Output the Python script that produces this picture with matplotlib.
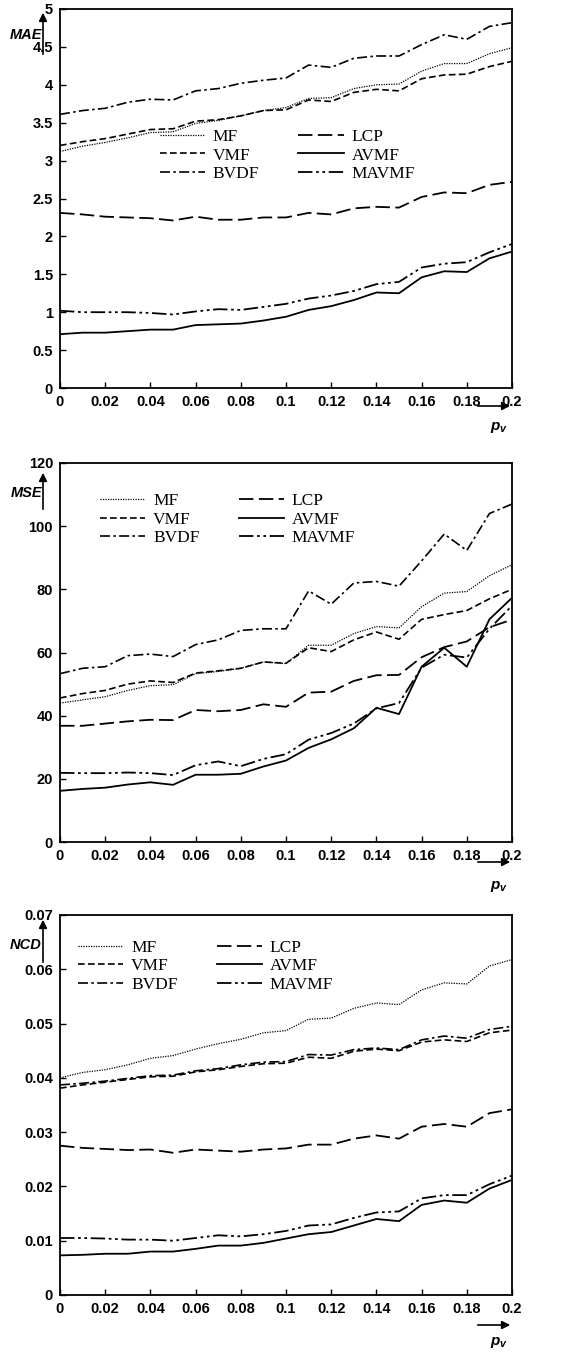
import matplotlib
matplotlib.use("Agg")
import matplotlib.pyplot as plt
from matplotlib.ticker import FuncFormatter, MultipleLocator

plt.rcParams["font.family"] = ["Liberation Sans", "DejaVu Sans"]
plt.rcParams["mathtext.fontset"] = "custom"
plt.rcParams["mathtext.it"] = "Liberation Sans:italic:bold"
plt.rcParams["mathtext.rm"] = "Liberation Sans:bold"

p_v = [0.00, 0.01, 0.02, 0.03, 0.04, 0.05, 0.06, 0.07, 0.08, 0.09, 0.10,
       0.11, 0.12, 0.13, 0.14, 0.15, 0.16, 0.17, 0.18, 0.19, 0.20]
filters = ["MF", "VMF", "BVDF", "LCP", "AVMF", "MAVMF"]

mae_mf = [3.12, 3.19, 3.24, 3.30, 3.37, 3.38, 3.49, 3.53, 3.59, 3.66, 3.70,
          3.82, 3.83, 3.95, 4.00, 4.01, 4.18, 4.28, 4.28, 4.41, 4.49]
mae_vmf = [3.20, 3.25, 3.29, 3.35, 3.41, 3.42, 3.52, 3.54, 3.59, 3.66, 3.67,
           3.80, 3.78, 3.90, 3.94, 3.92, 4.08, 4.13, 4.14, 4.24, 4.31]
mae_bvdf = [3.61, 3.66, 3.69, 3.77, 3.81, 3.80, 3.92, 3.95, 4.02, 4.06, 4.09,
            4.26, 4.23, 4.35, 4.38, 4.38, 4.53, 4.66, 4.60, 4.77, 4.82]
mae_lcp = [2.31, 2.29, 2.26, 2.25, 2.24, 2.21, 2.26, 2.22, 2.22, 2.25, 2.25,
           2.31, 2.29, 2.37, 2.39, 2.38, 2.52, 2.58, 2.57, 2.68, 2.72]
mae_avmf = [0.71, 0.73, 0.73, 0.75, 0.77, 0.77, 0.83, 0.84, 0.85, 0.89, 0.94,
            1.03, 1.08, 1.16, 1.26, 1.25, 1.46, 1.54, 1.53, 1.71, 1.80]
mae_mavmf = [1.02, 1.00, 1.00, 1.00, 0.99, 0.97, 1.01, 1.04, 1.03, 1.07, 1.11,
             1.18, 1.22, 1.28, 1.37, 1.40, 1.59, 1.64, 1.66, 1.79, 1.90]

mse_mf = [44.0, 45.0, 46.0, 48.0, 49.5, 49.8, 53.3, 54.0, 55.0, 57.0, 56.5,
          62.3, 62.3, 66.0, 68.2, 67.8, 74.5, 78.8, 79.3, 84.3, 87.8]
mse_vmf = [45.6, 47.0, 48.0, 50.0, 51.0, 50.5, 53.5, 54.2, 55.0, 57.0, 56.6,
           61.5, 60.3, 64.0, 66.5, 64.2, 70.5, 72.0, 73.3, 77.0, 80.0]
mse_bvdf = [53.3, 55.0, 55.5, 59.0, 59.5, 58.7, 62.5, 64.0, 67.0, 67.5, 67.5,
            79.5, 75.3, 82.0, 82.5, 81.0, 89.0, 97.5, 92.3, 104.0, 107.0]
mse_lcp = [36.8, 36.8, 37.5, 38.2, 38.7, 38.6, 41.8, 41.4, 41.8, 43.6, 42.8,
           47.3, 47.6, 51.0, 52.8, 52.9, 58.5, 61.7, 63.5, 68.0, 70.4]
mse_avmf = [16.2, 16.8, 17.2, 18.2, 18.9, 18.1, 21.3, 21.3, 21.6, 23.9, 25.8,
            29.8, 32.5, 36.0, 42.5, 40.5, 55.5, 61.5, 55.5, 70.5, 77.3]
mse_mavmf = [21.9, 21.8, 21.8, 22.0, 21.8, 21.2, 24.3, 25.5, 24.0, 26.3, 27.8,
             32.4, 34.5, 37.5, 42.3, 44.0, 55.2, 59.3, 58.4, 67.5, 74.8]

ncd_mf = [0.0400, 0.0410, 0.0415, 0.0424, 0.0436, 0.0441, 0.0453, 0.0463, 0.0471, 0.0483, 0.0487,
          0.0508, 0.0510, 0.0528, 0.0538, 0.0535, 0.0562, 0.0575, 0.0573, 0.0606, 0.0618]
ncd_vmf = [0.0381, 0.0387, 0.0392, 0.0397, 0.0402, 0.0403, 0.0411, 0.0415, 0.0421, 0.0426, 0.0427,
           0.0438, 0.0436, 0.0449, 0.0453, 0.0450, 0.0466, 0.0470, 0.0467, 0.0483, 0.0488]
ncd_bvdf = [0.0387, 0.0390, 0.0394, 0.0399, 0.0404, 0.0405, 0.0413, 0.0417, 0.0424, 0.0429, 0.0430,
            0.0443, 0.0442, 0.0452, 0.0455, 0.0452, 0.0470, 0.0477, 0.0473, 0.0489, 0.0495]
ncd_lcp = [0.0275, 0.0271, 0.0269, 0.0267, 0.0268, 0.0262, 0.0268, 0.0266, 0.0264, 0.0268, 0.0270,
           0.0277, 0.0277, 0.0288, 0.0294, 0.0288, 0.0310, 0.0315, 0.0310, 0.0335, 0.0342]
ncd_avmf = [0.0073, 0.0074, 0.0076, 0.0076, 0.0080, 0.0080, 0.0085, 0.0091, 0.0091, 0.0096, 0.0104,
            0.0112, 0.0116, 0.0128, 0.0140, 0.0136, 0.0166, 0.0174, 0.0170, 0.0196, 0.0212]
ncd_mavmf = [0.0105, 0.0105, 0.0104, 0.0102, 0.0102, 0.0100, 0.0105, 0.0110, 0.0108, 0.0112, 0.0118,
             0.0128, 0.0130, 0.0142, 0.0152, 0.0154, 0.0178, 0.0184, 0.0184, 0.0204, 0.0220]

LINESTYLES = {
    "MF": (0, (1, 1)),
    "VMF": (0, (4, 2)),
    "BVDF": (0, (6, 2, 1.5, 2)),
    "LCP": (0, (8, 3)),
    "AVMF": "-",
    "MAVMF": (0, (8, 2, 1.5, 2, 1.5, 2)),
}
LINEWIDTHS = {"MF": 0.9, "VMF": 1.2, "BVDF": 1.2, "LCP": 1.3, "AVMF": 1.3, "MAVMF": 1.3}

W, H = 561, 1352


def draw_panel(fig, rect, series, ylim, ystep, ylabel, legend_anchor, label_y, arrow_y, xarrow_y, pv_y):
    ax = fig.add_axes(rect)
    for name, values in zip(filters, series):
        ax.plot(p_v, values, color="black", linestyle=LINESTYLES[name], linewidth=LINEWIDTHS[name], label=name)
    ax.set_xlim(0, 0.2)
    ax.set_ylim(*ylim)
    ax.xaxis.set_major_locator(MultipleLocator(0.02))
    ax.yaxis.set_major_locator(MultipleLocator(ystep))
    fmt = FuncFormatter(lambda v, _: f"{round(v, 6):g}")
    ax.xaxis.set_major_formatter(fmt)
    ax.yaxis.set_major_formatter(fmt)
    ax.tick_params(direction="in", length=4, width=1, labelsize=10.5, pad=5)
    for lab in ax.get_xticklabels() + ax.get_yticklabels():
        lab.set_fontweight("bold")
    for spine in ax.spines.values():
        spine.set_linewidth(1.3)
    ax.legend(
        loc="upper left", bbox_to_anchor=legend_anchor, ncol=2, frameon=False,
        prop={"family": "Liberation Serif", "size": 12.5}, handlelength=2.6,
        handletextpad=0.45, columnspacing=2.25, labelspacing=0.12, borderpad=0, borderaxespad=0,
    )
    # y label with upward arrow
    fig.text(42 / W, 1 - label_y / H, ylabel, ha="right", va="center", fontsize=10.5,
             fontstyle="italic", fontweight="bold")
    ax.annotate("", xy=(43, H - arrow_y[1]), xytext=(43, H - arrow_y[0]), xycoords="figure pixels",
                textcoords="figure pixels",
                arrowprops=dict(arrowstyle="-|>", color="black", lw=1.2, mutation_scale=12))
    # x label with right arrow
    ax.annotate("", xy=(513, H - xarrow_y), xytext=(475, H - xarrow_y), xycoords="figure pixels",
                textcoords="figure pixels",
                arrowprops=dict(arrowstyle="-|>", color="black", lw=1.2, mutation_scale=12))
    fig.text(490 / W, 1 - pv_y / H, r"$p_v$", ha="left", va="center", fontsize=11)
    return ax


fig = plt.figure(figsize=(W / 100, H / 100), dpi=100)

draw_panel(fig, [60 / W, (H - 388) / H, 452 / W, 379 / H],
           [mae_mf, mae_vmf, mae_bvdf, mae_lcp, mae_avmf, mae_mavmf],
           (0, 5), 0.5, "MAE", (0.221, 0.683), 35, (57, 10), 406, 428)
draw_panel(fig, [60 / W, (H - 842) / H, 452 / W, 379 / H],
           [mse_mf, mse_vmf, mse_bvdf, mse_lcp, mse_avmf, mse_mavmf],
           (0, 120), 20, "MSE", (0.0885, 0.92), 493, (512, 470), 862, 886)
draw_panel(fig, [60 / W, (H - 1295) / H, 452 / W, 380 / H],
           [ncd_mf, ncd_vmf, ncd_bvdf, ncd_lcp, ncd_avmf, ncd_mavmf],
           (0, 0.07), 0.01, "NCD", (0.04, 0.934), 945, (965, 917), 1325, 1342)

fig.savefig("out.png", dpi=100)
plt.close(fig)
